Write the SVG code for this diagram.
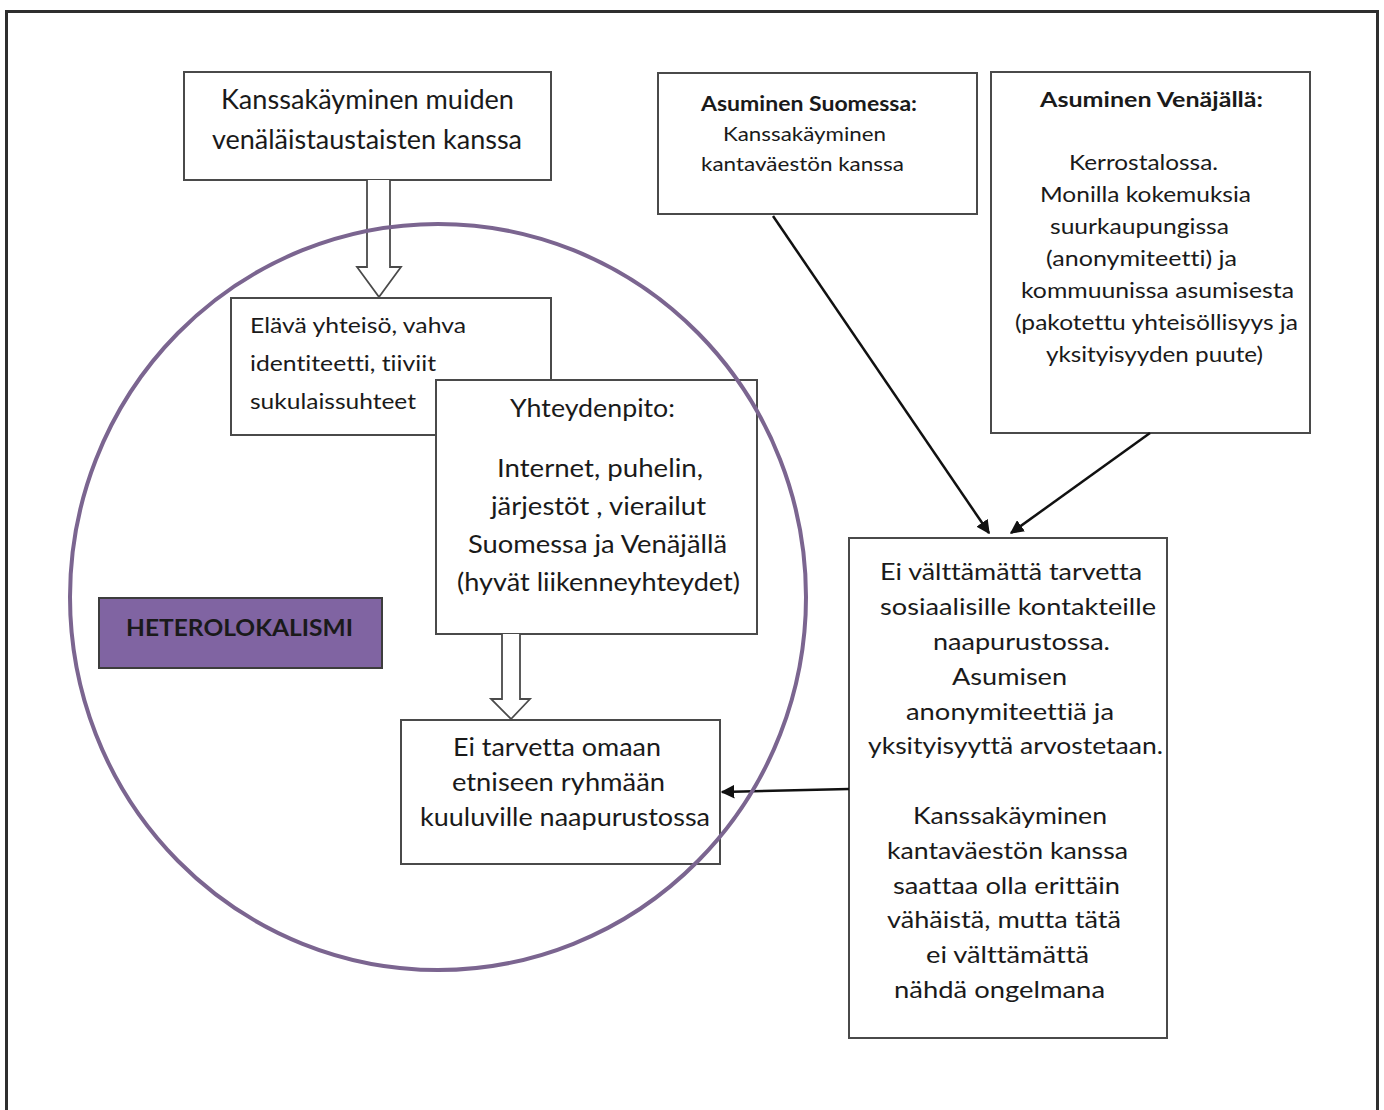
<svg xmlns="http://www.w3.org/2000/svg" width="1384" height="1110" viewBox="0 0 1384 1110">
<style>
.box{fill:#fff;stroke:#4a4a4a;stroke-width:2}
.t{font-family:Lato,"Open Sans","Liberation Sans",sans-serif;fill:#1a1a1a;font-variant-ligatures:none;font-feature-settings:"liga" 0,"clig" 0,"dlig" 0}
.b{font-weight:bold}
.conn{stroke:#111;stroke-width:2.5;fill:none}
.hollow{fill:#fff;stroke:#4a4a4a;stroke-width:1.8}
</style>
<defs>
<marker id="ah" viewBox="0 0 10 10" refX="9" refY="5" markerWidth="5.5" markerHeight="5.5" orient="auto" markerUnits="strokeWidth">
<path d="M0,0 L10,5 L0,10 z" fill="#111"/>
</marker>
</defs>
<rect x="0" y="0" width="1384" height="1110" fill="#fff"/>
<rect x="6.5" y="11.5" width="1371" height="1120" fill="none" stroke="#2e2e2e" stroke-width="3"/>

<g id="n1">
<rect class="box" x="184" y="72" width="367" height="108"/>
<text class="t" font-size="26" x="221" y="109" textLength="293" lengthAdjust="spacingAndGlyphs">Kanssakäyminen muiden</text>
<text class="t" font-size="26" x="212" y="149" textLength="310" lengthAdjust="spacingAndGlyphs">venäläistaustaisten kanssa</text>
</g>

<g id="n2">
<rect class="box" x="231" y="298" width="320" height="137"/>
<text class="t" font-size="22" x="250" y="333" textLength="216" lengthAdjust="spacingAndGlyphs">Elävä yhteisö, vahva</text>
<text class="t" font-size="22" x="250" y="371" textLength="186" lengthAdjust="spacingAndGlyphs">identiteetti, tiiviit</text>
<text class="t" font-size="22" x="250" y="409" textLength="166" lengthAdjust="spacingAndGlyphs">sukulaissuhteet</text>
</g>

<g id="n3">
<rect class="box" x="436" y="380" width="321" height="254"/>
<text class="t" font-size="25" x="510" y="417" textLength="165" lengthAdjust="spacingAndGlyphs">Yhteydenpito:</text>
<text class="t" font-size="25" x="497" y="477" textLength="206" lengthAdjust="spacingAndGlyphs">Internet, puhelin,</text>
<text class="t" font-size="25" x="491" y="515" textLength="215" lengthAdjust="spacingAndGlyphs">järjestöt , vierailut</text>
<text class="t" font-size="25" x="468" y="553" textLength="259" lengthAdjust="spacingAndGlyphs">Suomessa ja Venäjällä</text>
<text class="t" font-size="25" x="457" y="591" textLength="283" lengthAdjust="spacingAndGlyphs">(hyvät liikenneyhteydet)</text>
</g>

<g id="n4">
<rect x="99" y="598" width="283" height="70" fill="#8064a2" stroke="#3d3d3d" stroke-width="2"/>
<text class="t b" font-size="22" x="126" y="636" textLength="227" lengthAdjust="spacingAndGlyphs">HETEROLOKALISMI</text>
</g>

<g id="n5">
<rect class="box" x="401" y="720" width="319" height="144"/>
<text class="t" font-size="25" x="453" y="756" textLength="208" lengthAdjust="spacingAndGlyphs">Ei tarvetta omaan</text>
<text class="t" font-size="25" x="452" y="791" textLength="213" lengthAdjust="spacingAndGlyphs">etniseen ryhmään</text>
<text class="t" font-size="25" x="420" y="826" textLength="290" lengthAdjust="spacingAndGlyphs">kuuluville naapurustossa</text>
</g>

<g id="n6">
<rect class="box" x="658" y="73" width="319" height="141"/>
<text class="t b" font-size="20" x="701" y="111" textLength="216" lengthAdjust="spacingAndGlyphs">Asuminen Suomessa:</text>
<text class="t" font-size="20" x="723" y="141" textLength="163" lengthAdjust="spacingAndGlyphs">Kanssakäyminen</text>
<text class="t" font-size="20" x="701" y="171" textLength="203" lengthAdjust="spacingAndGlyphs">kantaväestön kanssa</text>
</g>

<g id="n7">
<rect class="box" x="991" y="72" width="319" height="361"/>
<text class="t b" font-size="21" x="1040" y="107" textLength="223" lengthAdjust="spacingAndGlyphs">Asuminen Venäjällä:</text>
<text class="t" font-size="22" x="1069" y="170" textLength="149" lengthAdjust="spacingAndGlyphs">Kerrostalossa.</text>
<text class="t" font-size="22" x="1040" y="202" textLength="211" lengthAdjust="spacingAndGlyphs">Monilla kokemuksia</text>
<text class="t" font-size="22" x="1050" y="234" textLength="179" lengthAdjust="spacingAndGlyphs">suurkaupungissa</text>
<text class="t" font-size="22" x="1046" y="266" textLength="191" lengthAdjust="spacingAndGlyphs">(anonymiteetti) ja</text>
<text class="t" font-size="22" x="1021" y="298" textLength="273" lengthAdjust="spacingAndGlyphs">kommuunissa asumisesta</text>
<text class="t" font-size="22" x="1015" y="330" textLength="283" lengthAdjust="spacingAndGlyphs">(pakotettu yhteisöllisyys ja</text>
<text class="t" font-size="22" x="1046" y="362" textLength="217" lengthAdjust="spacingAndGlyphs">yksityisyyden puute)</text>
</g>

<g id="n8">
<rect class="box" x="849" y="538" width="318" height="500"/>
<text class="t" font-size="24" x="880" y="580" textLength="262" lengthAdjust="spacingAndGlyphs">Ei välttämättä tarvetta</text>
<text class="t" font-size="24" x="880" y="615" textLength="276" lengthAdjust="spacingAndGlyphs">sosiaalisille kontakteille</text>
<text class="t" font-size="24" x="933" y="650" textLength="177" lengthAdjust="spacingAndGlyphs">naapurustossa.</text>
<text class="t" font-size="24" x="952" y="685" textLength="115" lengthAdjust="spacingAndGlyphs">Asumisen</text>
<text class="t" font-size="24" x="906" y="720" textLength="208" lengthAdjust="spacingAndGlyphs">anonymiteettiä ja</text>
<text class="t" font-size="24" x="868" y="754" textLength="295" lengthAdjust="spacingAndGlyphs">yksityisyyttä arvostetaan.</text>
<text class="t" font-size="24" x="913" y="824" textLength="194" lengthAdjust="spacingAndGlyphs">Kanssakäyminen</text>
<text class="t" font-size="24" x="887" y="859" textLength="241" lengthAdjust="spacingAndGlyphs">kantaväestön kanssa</text>
<text class="t" font-size="24" x="893" y="894" textLength="227" lengthAdjust="spacingAndGlyphs">saattaa olla erittäin</text>
<text class="t" font-size="24" x="887" y="928" textLength="234" lengthAdjust="spacingAndGlyphs">vähäistä, mutta tätä</text>
<text class="t" font-size="24" x="926" y="963" textLength="163" lengthAdjust="spacingAndGlyphs">ei välttämättä</text>
<text class="t" font-size="24" x="894" y="998" textLength="211" lengthAdjust="spacingAndGlyphs">nähdä ongelmana</text>
</g>

<g id="connectors">
<path class="hollow" d="M367,180 L367,267 L357,267 L379,297 L401,267 L390,267 L390,180"/>
<path class="hollow" d="M502,634 L502,699 L491,699 L511,719 L530,699 L520,699 L520,634"/>
<line class="conn" x1="773" y1="216" x2="989" y2="533" marker-end="url(#ah)"/>
<line class="conn" x1="1150" y1="433" x2="1011" y2="533" marker-end="url(#ah)"/>
<line class="conn" x1="849" y1="789" x2="722" y2="792" marker-end="url(#ah)"/>
</g>

<g id="circle">
<ellipse cx="438" cy="597" rx="368" ry="373" fill="none" stroke="#7b6590" stroke-width="4"/>
</g>
</svg>
